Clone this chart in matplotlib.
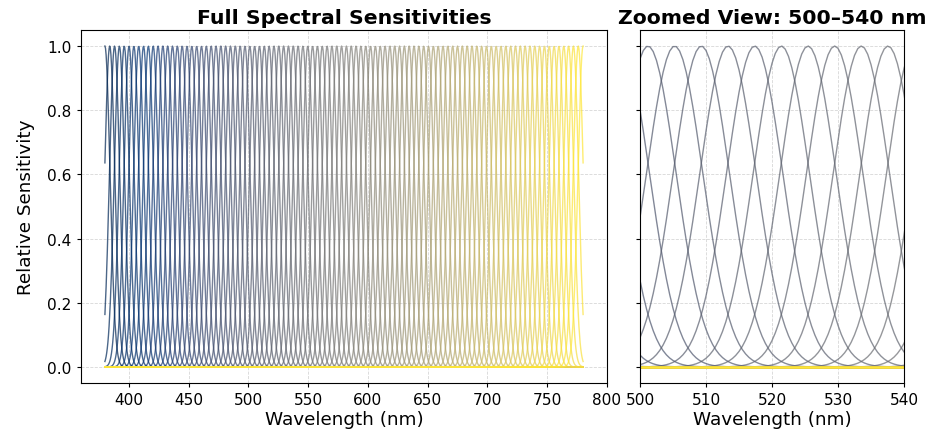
import numpy as np
import matplotlib
matplotlib.use('Agg')
import matplotlib.pyplot as plt

# wavelength grid and sensor peak positions (nm)
wl_min, wl_max = 380, 780
n_sensors = 100
fwhm = 10.0

wavelengths = np.linspace(wl_min, wl_max, 801)
peaks = np.linspace(wl_min, wl_max, n_sensors)
sigma = fwhm / (2 * np.sqrt(2 * np.log(2)))

zoom_range = (500, 540)

fig = plt.figure(figsize=(9.28, 4.35), dpi=100)
ax1 = fig.add_axes([81 / 928, 51 / 435, 526 / 928, 353 / 435])
ax2 = fig.add_axes([640 / 928, 51 / 435, 264 / 928, 353 / 435], sharey=ax1)

cmap = plt.get_cmap('cividis')
for i, p in enumerate(peaks):
    resp = np.exp(-0.5 * ((wavelengths - p) / sigma) ** 2)
    c = cmap(i / (n_sensors - 1))
    ax1.plot(wavelengths, resp, color=c, lw=1.0, alpha=0.7)
    ax2.plot(wavelengths, resp, color=c, lw=1.0, alpha=0.7)

ax1.set_title('Full Spectral Sensitivities', fontsize=14.7, fontweight='bold', pad=5)
ax1.set_xlabel('Wavelength (nm)', fontsize=13.2, labelpad=2)
ax1.set_ylabel('Relative Sensitivity', fontsize=13.2, labelpad=9)
ax1.grid(True, ls='--', lw=0.6, alpha=0.5)

ax2.set_title('Zoomed View: %d\u2013%d nm' % zoom_range, fontsize=14.7, fontweight='bold', pad=5)
ax2.set_xlabel('Wavelength (nm)', fontsize=13.2, labelpad=2)
ax2.set_xlim(*zoom_range)
ax2.grid(True, ls='--', lw=0.6, alpha=0.5)
plt.setp(ax2.get_yticklabels(), visible=False)

for ax in (ax1, ax2):
    ax.tick_params(labelsize=11.1, length=3.2)

plt.savefig('out.png', dpi=100)
